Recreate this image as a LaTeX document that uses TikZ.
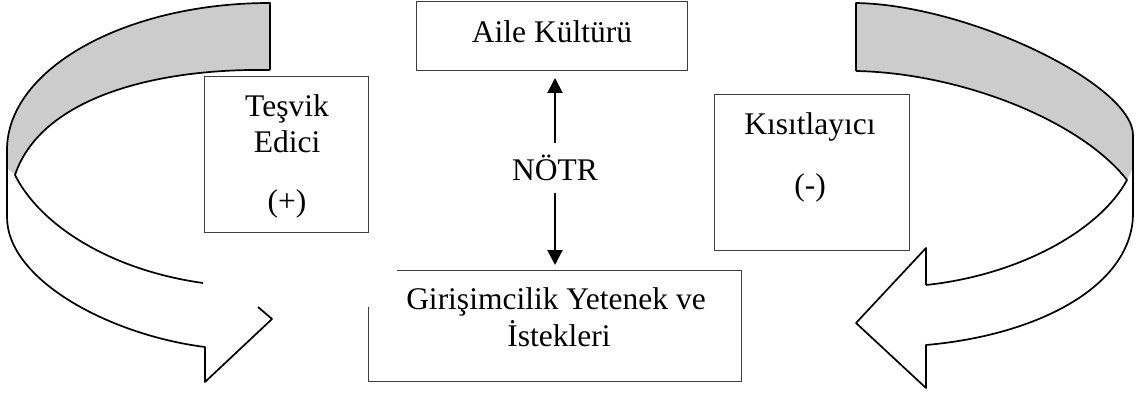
\documentclass[tikz,border=0pt]{standalone}
\usepackage{fontspec}
\setmainfont{Liberation Serif}
\usetikzlibrary{arrows.meta}

\begin{document}
\begin{tikzpicture}[x=1pt,y=-1pt,
    kutu/.style={draw=black!75, line width=1pt, inner sep=0pt, outer sep=0pt},
    yazi/.style={anchor=base, inner sep=0pt, font=\fontsize{31.5}{35}\selectfont},
    serit/.style={line width=1.7pt, line join=round},
    ok/.style={line width=2pt, -{Triangle[length=15pt,width=15pt]}}]
    \useasboundingbox (0,0) rectangle (1142,401);
    % sol serit (Tesvik)
    \fill[black!20] (270,3) .. controls (125,3) and (7,69) .. (7,150) -- (7,168) -- (15,175)
      .. controls (40,100) and (150,68) .. (270,70) -- cycle;
    \draw[serit] (270,70) -- (270,3) .. controls (125,3) and (7,69) .. (7,150) -- (7,217)
      .. controls (7,280) and (110,335) .. (205,347) -- (205,382) -- (272,319) -- (258,307);
    \draw[serit] (270,70) .. controls (150,68) and (40,100) .. (15,175)
      .. controls (40,225) and (110,270) .. (203,283);
    % sag serit (Kisitlayici)
    \fill[black!20] (856,3) .. controls (970,5) and (1133,85) .. (1133,135) -- (1133,168) -- (1127,180)
      .. controls (1080,120) and (960,73) .. (856,71) -- cycle;
    \draw[serit] (856,71) -- (856,3) .. controls (970,5) and (1133,85) .. (1133,135) -- (1133,213)
      .. controls (1133,285) and (1040,335) .. (926,345) -- (926,388) -- (856,323) -- (926,248) -- (926,285);
    \draw[serit] (856,71) .. controls (960,73) and (1080,120) .. (1127,180)
      .. controls (1100,230) and (1020,275) .. (926,285);
    % kutular
    \node[kutu, minimum width=271pt, minimum height=69pt] (aile) at (551.5,36.5) {};
    \node[kutu, minimum width=164pt, minimum height=155pt] (tesvik) at (286,154.5) {};
    \node[kutu, minimum width=195pt, minimum height=155pt] (kisit) at (811.5,172.5) {};
    \node[inner sep=0pt, outer sep=0pt, minimum width=373pt, minimum height=111pt] (giri) at (554.5,325.5) {};
    \draw[draw=black!75, line width=1pt] ([xshift=29pt]giri.north west) -- (giri.north east)
      -- (giri.south east) -- (giri.south west) -- ([yshift=-37pt]giri.north west);
    % yazilar
    \node[yazi] (ailet) at (552,43) {Aile Kültürü};
    \node[yazi] (tesvik1) at (287,117) {Teşvik};
    \node[yazi] (tesvik2) at (287,152) {Edici};
    \node[yazi] (tesvik3) at (287,211) {(+)};
    \node[yazi] (kisit1) at (810,135) {Kısıtlayıcı};
    \node[yazi] (kisit2) at (810,195) {(-)};
    \node[yazi] (giri1) at (556,309) {Girişimcilik Yetenek ve};
    \node[yazi] (giri2) at (559,346) {İstekleri};
    \node[yazi] (notr) at (555,180) {NÖTR};
    % okler
    \draw[ok, shorten <=11pt, shorten >=7pt] (notr.north) -- (notr.north |- aile.south);
    \draw[ok, shorten <=12pt, shorten >=5pt] (notr.south) -- (notr.south |- giri.north);
\end{tikzpicture}
\end{document}
